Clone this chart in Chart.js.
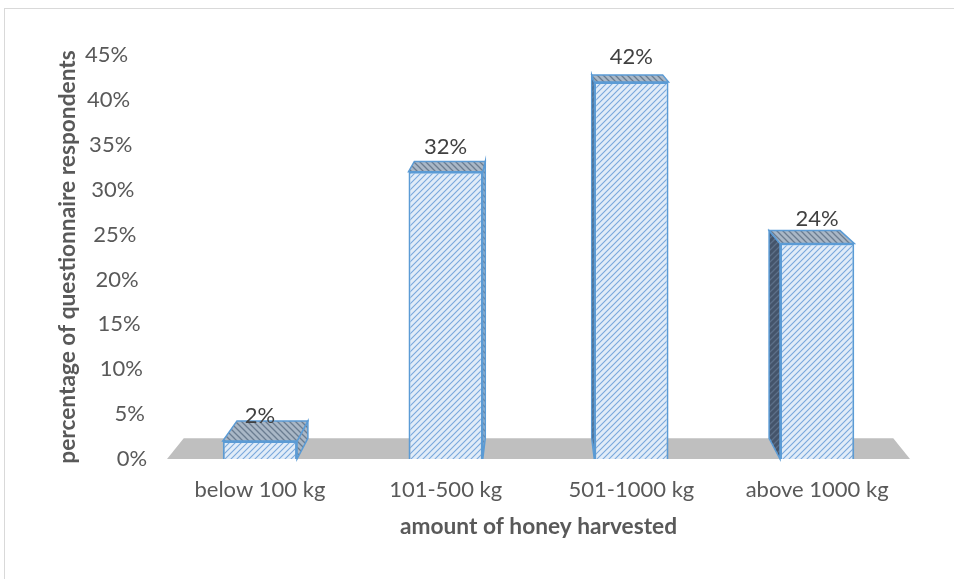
<!DOCTYPE html>
<html>
<head>
<meta charset="utf-8">
<title>Honey harvest</title>
<script src="https://cdn.jsdelivr.net/npm/chart.js@4"></script>
<style>
  body { margin: 0; background: #fff; }
  #frame { position: absolute; left: 4px; top: 8px; width: 1000px; height: 700px;
           border-left: 1px solid #d9d9d9; border-top: 1px solid #d9d9d9; }
  #honeyChart { position: absolute; left: 0; top: 0; }
</style>
</head>
<body>
<div id="frame"></div>
<canvas id="honeyChart" width="954" height="579"></canvas>
<script>
var harvestClasses = ["below 100 kg", "101-500 kg", "501-1000 kg", "above 1000 kg"];
var respondentShare = [2, 32, 42, 24];
var percentTicks = [0, 5, 10, 15, 20, 25, 30, 35, 40, 45];

Chart.defaults.font.family = "Lato";

var canvas = document.getElementById("honeyChart");
var ctx = canvas.getContext("2d");

// diagonal hatch tile, dir 1 = "/" and -1 = "\"
function hatch(bg, line, dir, width) {
  var s = 6;
  var tile = document.createElement("canvas");
  tile.width = s;
  tile.height = s;
  var g = tile.getContext("2d");
  g.fillStyle = bg;
  g.fillRect(0, 0, s, s);
  g.strokeStyle = line;
  g.lineWidth = width;
  g.beginPath();
  if (dir > 0) {
    g.moveTo(-1, s + 1); g.lineTo(s + 1, -1);
    g.moveTo(-1, 1); g.lineTo(1, -1);
    g.moveTo(s - 1, s + 1); g.lineTo(s + 1, s - 1);
  } else {
    g.moveTo(-1, -1); g.lineTo(s + 1, s + 1);
    g.moveTo(s - 1, -1); g.lineTo(s + 1, 1);
    g.moveTo(-1, s - 1); g.lineTo(1, s + 1);
  }
  g.stroke();
  return ctx.createPattern(tile, "repeat");
}

var frontFill = hatch("#e1ecf8", "#79a8dc", 1, 1.1);
var topFill = hatch("#a9b7c6", "#6a7c90", -1, 1.3);
var darkSideFill = hatch("#44546a", "#5d7088", 1, 1.3);
var edgeColor = "#5b9bd5";

// simple perspective: points slide toward a vanishing point as they go back
var eye = { x: 538, y: -111 };
var depthX = 0.045, depthY = 0.0365;
function recede(x, y) {
  return [x + (eye.x - x) * depthX, y + (eye.y - y) * depthY];
}

function face(c, pts, fill, stroke) {
  c.beginPath();
  c.moveTo(pts[0][0], pts[0][1]);
  for (var i = 1; i < pts.length; i++) c.lineTo(pts[i][0], pts[i][1]);
  c.closePath();
  c.fillStyle = fill;
  c.fill();
  if (stroke) {
    c.strokeStyle = stroke;
    c.lineWidth = 1.5;
    c.stroke();
  }
}

var boxes = {
  id: "boxes",
  beforeDatasetsDraw: function (chart) {
    var c = chart.ctx, area = chart.chartArea;
    c.save();
    // grey floor
    var bl = recede(area.left, area.bottom), br = recede(area.right, area.bottom);
    face(c, [[area.left, area.bottom], [area.right, area.bottom], br, bl], "#bfbfbf");

    // top and side of each column, the front is drawn by the bar itself
    chart.getDatasetMeta(0).data.forEach(function (bar) {
      var half = bar.width / 2;
      var l = bar.x - half, r = bar.x + half, t = bar.y, b = bar.base;
      var onLeft = bar.x < eye.x;
      var edge = onLeft ? r : l;
      face(c, [[edge, t], [edge, b], recede(edge, b), recede(edge, t)],
        onLeft ? topFill : darkSideFill, edgeColor);
      face(c, [[l, t], [r, t], recede(r, t), recede(l, t)], topFill, edgeColor);
    });
    c.restore();
  },
  afterDatasetsDraw: function (chart) {
    var c = chart.ctx, area = chart.chartArea, y = chart.scales.y;
    c.save();
    c.font = "22px Lato";
    c.textBaseline = "middle";

    // percent ticks follow the slanted back wall
    c.fillStyle = "#595959";
    c.textAlign = "right";
    percentTicks.forEach(function (v) {
      var py = y.getPixelForValue(v);
      c.fillText(v + "%", area.left - 20 - (area.bottom - py) * 0.047, py);
    });

    // value labels above columns
    c.fillStyle = "#404040";
    c.textAlign = "center";
    chart.getDatasetMeta(0).data.forEach(function (bar, i) {
      c.fillText(respondentShare[i] + "%", bar.x, bar.y - 25);
    });
    c.restore();
  }
};

new Chart(ctx, {
  type: "bar",
  data: {
    labels: harvestClasses,
    datasets: [
      {
        data: respondentShare,
        backgroundColor: frontFill,
        borderColor: edgeColor,
        borderWidth: 2,
        categoryPercentage: 1,
        barPercentage: 0.4
      }
    ]
  },
  options: {
    responsive: false,
    animation: false,
    layout: { padding: { left: 54.4, right: 44, top: 55, bottom: 38.4 } },
    plugins: {
      legend: { display: false },
      tooltip: { enabled: false }
    },
    scales: {
      x: {
        afterFit: function (scale) { scale.height = 81.6; },
        grid: { display: false, drawTicks: false },
        border: { display: false },
        ticks: { color: "#595959", font: { size: 22 }, padding: 18, maxRotation: 0 },
        title: {
          display: true,
          text: "amount of honey harvested",
          color: "#595959",
          font: { size: 22.7, weight: "bold" },
          padding: { top: 0, bottom: 0 }
        }
      },
      y: {
        min: 0,
        max: 45,
        grid: { display: false, drawTicks: false },
        border: { display: false },
        ticks: { display: false, stepSize: 5 },
        title: {
          display: true,
          text: "percentage of questionnaire respondents",
          color: "#595959",
          font: { size: 22.7, weight: "bold" },
          padding: { top: 0, bottom: 85.4 }
        }
      }
    }
  },
  plugins: [boxes]
});
</script>
</body>
</html>
